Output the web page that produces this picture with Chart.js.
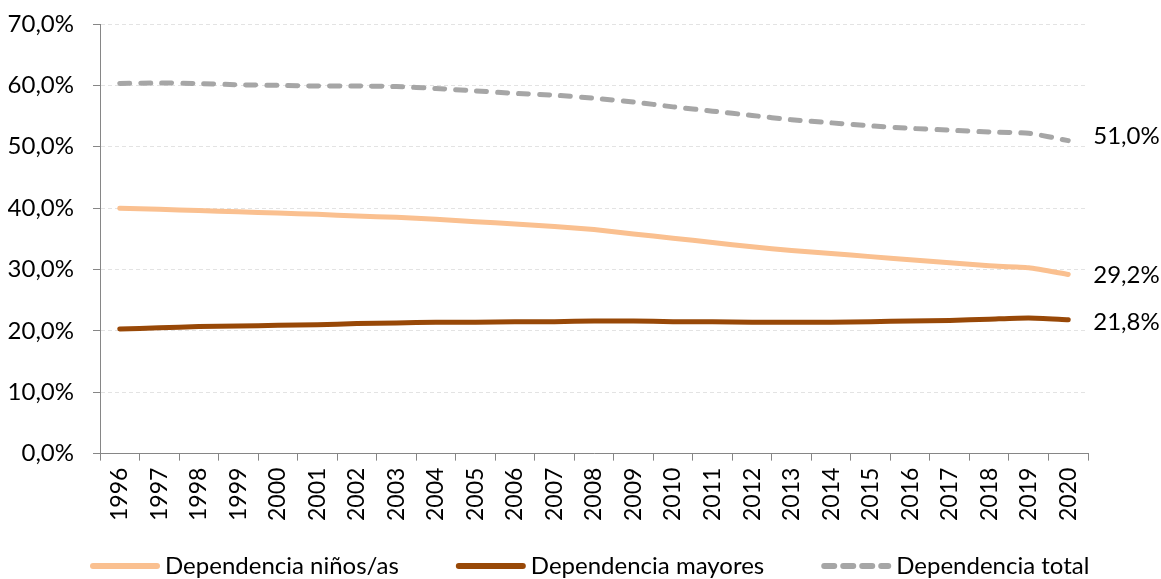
<!DOCTYPE html>
<html>
<head>
<meta charset="utf-8">
<script src="https://cdn.jsdelivr.net/npm/chart.js@4.4.0/dist/chart.umd.min.js"></script>
<style>
  body { margin: 0; background: #fff; }
  #wrap { width: 1161px; height: 579px; }
</style>
</head>
<body>
<div id="wrap"><canvas id="chart"></canvas></div>
<script>
const years = ['1996', '1997', '1998', '1999', '2000', '2001', '2002', '2003', '2004', '2005', '2006', '2007', '2008',
    '2009', '2010', '2011', '2012', '2013', '2014', '2015', '2016', '2017', '2018', '2019', '2020'];

const ninos = [40.0, 39.8, 39.6, 39.4, 39.2, 39.0, 38.7, 38.5, 38.2, 37.8, 37.4, 37.0, 36.5,
    35.8, 35.1, 34.4, 33.7, 33.1, 32.6, 32.1, 31.6, 31.1, 30.6, 30.3, 29.2];
const mayores = [20.3, 20.5, 20.7, 20.8, 20.9, 21.0, 21.2, 21.3, 21.4, 21.4, 21.5, 21.5, 21.6,
    21.6, 21.5, 21.5, 21.4, 21.4, 21.4, 21.5, 21.6, 21.7, 21.9, 22.1, 21.8];
const total = [60.3, 60.4, 60.3, 60.1, 60.0, 59.9, 59.9, 59.8, 59.5, 59.1, 58.7, 58.4, 57.9,
    57.3, 56.5, 55.8, 55.1, 54.4, 53.9, 53.4, 53.0, 52.7, 52.4, 52.2, 51.0];

const seriesNames = ['Dependencia niños/as', 'Dependencia mayores', 'Dependencia total'];
const endLabels = ['29,2%', '21,8%', '51,0%'];

const FONT = 'Lato, "Open Sans", sans-serif';

function pct(v) {
    return v.toFixed(1).replace('.', ',') + '%';
}

// labels drawn to the right of the last point of each line
const endLabelPlugin = {
    id: 'endLabels',
    afterDatasetsDraw(chart) {
        const ctx = chart.ctx;
        const shifts = [1, 2, -4];
        ctx.save();
        ctx.font = '24px ' + FONT;
        ctx.fillStyle = '#000';
        ctx.textBaseline = 'middle';
        ctx.textAlign = 'left';
        chart.data.datasets.forEach((ds, i) => {
            const meta = chart.getDatasetMeta(i);
            const pt = meta.data[meta.data.length - 1];
            ctx.fillText(endLabels[i], pt.x + 25, pt.y + shifts[i]);
        });
        ctx.restore();
    }
};

// legend in one row along the bottom, like the Excel original
const bottomLegend = {
    id: 'bottomLegend',
    afterDraw(chart) {
        const ctx = chart.ctx;
        const y = 566;
        let x = 90;
        ctx.save();
        ctx.font = '24px ' + FONT;
        ctx.textBaseline = 'middle';
        ctx.textAlign = 'left';
        chart.data.datasets.forEach((ds) => {
            ctx.strokeStyle = ds.borderColor;
            ctx.lineWidth = 6;
            ctx.lineCap = 'round';
            ctx.setLineDash(ds.borderDash ? [10, 9] : []);
            ctx.beginPath();
            ctx.moveTo(x + 3, y);
            ctx.lineTo(x + 67, y);
            ctx.stroke();
            ctx.setLineDash([]);
            ctx.fillStyle = '#000';
            ctx.fillText(ds.label, x + 75, y);
            x += 75 + ctx.measureText(ds.label).width + 57;
        });
        ctx.restore();
    }
};

const ctx = document.getElementById('chart').getContext('2d');
new Chart(ctx, {
    type: 'line',
    data: {
        labels: years,
        datasets: [
            {
                label: seriesNames[0],
                data: ninos,
                borderColor: '#FAC090',
                backgroundColor: '#FAC090',
                borderWidth: 5,
                borderCapStyle: 'round',
                pointRadius: 0,
                tension: 0.2
            },
            {
                label: seriesNames[1],
                data: mayores,
                borderColor: '#984807',
                backgroundColor: '#984807',
                borderWidth: 5,
                borderCapStyle: 'round',
                pointRadius: 0,
                tension: 0.2
            },
            {
                label: seriesNames[2],
                data: total,
                borderColor: '#A6A6A6',
                backgroundColor: '#A6A6A6',
                borderWidth: 5,
                borderDash: [10, 11],
                borderCapStyle: 'round',
                pointRadius: 0,
                tension: 0.2
            }
        ]
    },
    options: {
        responsive: true,
        maintainAspectRatio: false,
        animation: false,
        layout: {
            padding: { left: 8, right: 73, top: 24, bottom: 51 }
        },
        plugins: {
            legend: { display: false },
            tooltip: { enabled: false }
        },
        scales: {
            x: {
                offset: true,
                grid: {
                    offset: true,
                    drawOnChartArea: false,
                    color: '#868686',
                    tickLength: 7
                },
                border: { color: '#868686', width: 1 },
                ticks: {
                    autoSkip: false,
                    minRotation: 90,
                    maxRotation: 90,
                    padding: 7,
                    color: '#000',
                    font: { family: FONT, size: 23 }
                }
            },
            y: {
                min: 0,
                max: 70,
                afterFit(scale) {
                    scale.width = 92;
                    scale.paddingTop = 0;
                    scale.paddingBottom = 0;
                },
                ticks: {
                    stepSize: 10,
                    padding: 19,
                    color: '#000',
                    font: { family: FONT, size: 24 },
                    callback: (v) => pct(v)
                },
                grid: {
                    color: '#e3e3e3',
                    tickColor: '#868686',
                    tickLength: 7
                },
                border: { color: '#868686', width: 1, dash: [4, 3] }
            }
        }
    },
    plugins: [endLabelPlugin, bottomLegend]
});
</script>
</body>
</html>
